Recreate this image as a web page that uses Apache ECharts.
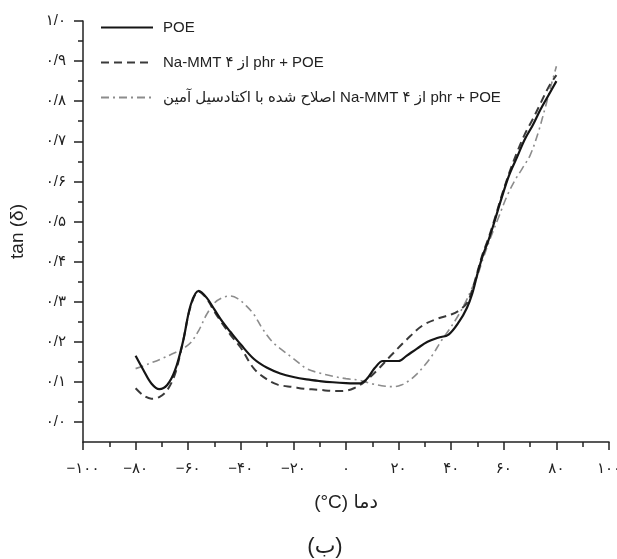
<!DOCTYPE html>
<html>
<head>
<meta charset="utf-8">
<script src="https://cdn.jsdelivr.net/npm/echarts@6/dist/echarts.min.js"></script>
<style>
html,body{margin:0;padding:0;background:#fff;}
#chart{width:617px;height:559px;}
</style>
</head>
<body>
<div id="chart"></div>
<script>
// ---- data ----
var seriesNames = ['POE', 'Na-MMT از ۴ phr + POE', 'اصلاح شده با اکتادسیل آمین Na-MMT از ۴ phr + POE'];

var poeTemp = [-80,-77,-74,-71,-68,-65,-62,-59,-56,-53,-50,-47,-44,-40,-35,-30,-25,-20,-15,-10,-5,0,5,8,11,14,17,20,23,27,31,35,39,43,46,48,50,52,54,56,59,62,65,68,71,74,77,80];
var poeTan  = [0.165,0.129,0.096,0.082,0.092,0.129,0.2,0.293,0.327,0.31,0.28,0.25,0.225,0.193,0.157,0.135,0.121,0.112,0.106,0.102,0.099,0.097,0.096,0.108,0.135,0.152,0.152,0.152,0.165,0.183,0.2,0.21,0.218,0.25,0.285,0.32,0.37,0.415,0.45,0.49,0.555,0.615,0.66,0.705,0.74,0.78,0.815,0.85];

var mmtTemp = [-80,-77,-74,-71,-68,-65,-62,-59,-56,-53,-50,-47,-44,-40,-35,-30,-26,-20,-16,-10,-4,0,3,7,12,17,23,29,35,40,43,46,48,50,52,54,56,59,62,65,68,71,74,77,80];
var mmtTan  = [0.084,0.066,0.058,0.062,0.079,0.12,0.2,0.29,0.325,0.308,0.275,0.245,0.218,0.185,0.133,0.106,0.093,0.087,0.083,0.08,0.077,0.078,0.084,0.1,0.13,0.165,0.205,0.24,0.258,0.268,0.278,0.297,0.33,0.375,0.42,0.455,0.495,0.56,0.62,0.672,0.718,0.755,0.795,0.835,0.865];

var odaTemp = [-80,-75,-70,-66,-62,-59,-56,-53,-50,-47,-44,-41,-38,-35,-32,-28,-24,-20,-15,-10,-5,0,5,10,15,18,21,24,27,30,33,36,39,42,45,48,50,52,55,58,61,64,67,70,73,76,78,80];
var odaTan  = [0.133,0.145,0.158,0.17,0.183,0.198,0.228,0.268,0.297,0.31,0.314,0.307,0.29,0.268,0.235,0.2,0.178,0.158,0.133,0.122,0.114,0.108,0.104,0.095,0.089,0.088,0.092,0.103,0.12,0.142,0.168,0.2,0.228,0.258,0.293,0.335,0.365,0.405,0.46,0.51,0.56,0.6,0.632,0.665,0.72,0.79,0.84,0.887];

var yMajorTicks = [0,0.1,0.2,0.3,0.4,0.5,0.6,0.7,0.8,0.9,1.0];
var yMinorTicks = [0.05,0.15,0.25,0.35,0.45,0.55,0.65,0.75,0.85,0.95];

var xAxisTitle = '(°C) دما';
var yAxisTitle = 'tan (δ)';
var caption = '(ب)';

// ---- helpers ----
var faDigits = ['۰','۱','۲','۳','۴','۵','۶','۷','۸','۹'];
function toFa(s){
  return String(s).replace(/[0-9]/g, function(d){return faDigits[+d];})
                  .replace('.', '/').replace('-', '\u2212');
}
function pairs(xs, ys){ return xs.map(function(x,i){return [x, ys[i]];}); }

var FONT = "'Liberation Sans','DejaVu Sans',sans-serif";
var chart = echarts.init(document.getElementById('chart'), null, {renderer:'canvas'});

chart.setOption({
  backgroundColor:'#ffffff',
  animation:false,
  textStyle:{fontFamily:FONT},
  grid:{left:83, right:8, top:21, bottom:117, containLabel:false, outerBoundsMode:'none'},
  legend:{
    show:true, orient:'vertical', left:100, top:20, padding:0,
    itemWidth:52, itemHeight:14, itemGap:20,
    itemStyle:{opacity:0},
    textStyle:{fontFamily:FONT, fontSize:15, color:'#222', padding:[0,0,0,5]},
    data:seriesNames.map(function(n){return {name:n};})
  },
  xAxis:{
    type:'value', min:-100, max:100, interval:20,
    name:xAxisTitle, nameLocation:'middle', nameGap:51,
    nameTextStyle:{fontFamily:FONT, fontSize:19, color:'#222'},
    axisLine:{show:true, onZero:false, lineStyle:{color:'#222', width:1.5}},
    axisTick:{show:true, inside:false, length:8, lineStyle:{color:'#222', width:1.5}},
    minorTick:{show:true, splitNumber:2, length:5, lineStyle:{color:'#222', width:1.5}},
    splitLine:{show:false}, minorSplitLine:{show:false},
    axisLabel:{margin:19, fontSize:15, color:'#222', fontFamily:FONT,
      formatter:function(v){return toFa(v);}}
  },
  yAxis:[{
    type:'value', min:-0.05, max:1.0, position:'left',
    name:yAxisTitle, nameLocation:'middle', nameGap:56, nameRotate:90,
    nameTextStyle:{fontFamily:FONT, fontSize:19, color:'#222'},
    axisLine:{show:true, onZero:false, lineStyle:{color:'#222', width:1.5}},
    axisTick:{show:true, inside:false, length:9, customValues:yMajorTicks, lineStyle:{color:'#222', width:1.5}},
    splitLine:{show:false},
    axisLabel:{margin:17, fontSize:15, color:'#222', fontFamily:FONT, customValues:yMajorTicks,
      formatter:function(v){return toFa(Number(v).toFixed(1));}}
  },{
    type:'value', min:-0.05, max:1.0, position:'left', offset:0,
    axisLine:{show:false, onZero:false},
    axisTick:{show:true, inside:false, length:5, customValues:yMinorTicks, lineStyle:{color:'#222', width:1.5}},
    splitLine:{show:false},
    axisLabel:{show:false}
  }],
  series:[
    {name:seriesNames[0], type:'line', data:pairs(poeTemp, poeTan), symbol:'none', smooth:0.35,
      lineStyle:{color:'#151515', width:2.2, type:'solid'}, itemStyle:{color:'#151515'}, z:5},
    {name:seriesNames[1], type:'line', data:pairs(mmtTemp, mmtTan), symbol:'none', smooth:0.35,
      lineStyle:{color:'#3a3a3a', width:2, type:[8,5]}, itemStyle:{color:'#3a3a3a'}, z:4},
    {name:seriesNames[2], type:'line', data:pairs(odaTemp, odaTan), symbol:'none', smooth:0.35,
      lineStyle:{color:'#8c8c8c', width:1.6, type:[8,4,2,4]}, itemStyle:{color:'#8c8c8c'}, z:3}
  ],
  graphic:[{
    type:'text', x:325, y:547,
    style:{text:caption, font:'22px ' + FONT, fill:'#222', align:'center', verticalAlign:'middle'}
  }]
});
</script>
</body>
</html>
